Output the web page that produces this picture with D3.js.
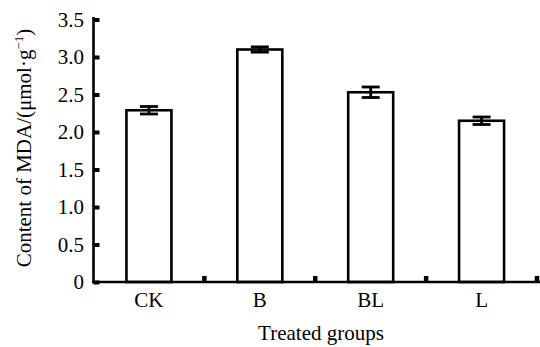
<!DOCTYPE html>
<html>
<head>
<meta charset="utf-8">
<script src="https://cdn.jsdelivr.net/npm/d3@7"></script>
<style>
  html, body { margin: 0; padding: 0; background: #fff; }
</style>
</head>
<body>
<svg id="chart" width="540" height="347" font-family="Liberation Serif, Times New Roman, DejaVu Serif, serif"></svg>
<script>
const categories = ["CK", "B", "BL", "L"];
const values = [2.29, 3.10, 2.53, 2.15];
const errors = [0.05, 0.035, 0.07, 0.05];
const yTicks = [0, 0.5, 1.0, 1.5, 2.0, 2.5, 3.0, 3.5];
const yTickLabels = ["0", "0.5", "1.0", "1.5", "2.0", "2.5", "3.0", "3.5"];
const xTitle = "Treated groups";

const FONT = "'Liberation Serif', 'Times New Roman', 'DejaVu Serif', serif";
const FS = 21;
const svg = d3.select("#chart");
const mLeft = 93.5, mRight = 537, mTop = 19.5, mBottom = 282;

const x = d3.scaleBand().domain(categories).range([mLeft, mRight]).paddingInner(0).paddingOuter(0);
const y = d3.scaleLinear().domain([0, 3.5]).range([mBottom, mTop]);
const barW = 45;

// bars
svg.append("g").selectAll("rect").data(categories).join("rect")
  .attr("x", d => x(d) + x.bandwidth() / 2 - barW / 2)
  .attr("y", (d, i) => y(values[i]))
  .attr("width", barW)
  .attr("height", (d, i) => y(0) - y(values[i]))
  .attr("fill", "#fff").attr("stroke", "#000").attr("stroke-width", 2.6);

// error bars
const eg = svg.append("g").attr("stroke", "#000").attr("stroke-width", 2.8);
categories.forEach((c, i) => {
  const cx = x(c) + x.bandwidth() / 2;
  const hi = y(values[i] + errors[i]), lo = y(values[i] - errors[i]);
  eg.append("line").attr("x1", cx).attr("x2", cx).attr("y1", hi).attr("y2", lo);
  eg.append("line").attr("x1", cx - 9).attr("x2", cx + 9).attr("y1", hi).attr("y2", hi);
  eg.append("line").attr("x1", cx - 9).attr("x2", cx + 9).attr("y1", lo).attr("y2", lo);
});

// y axis
const yAxis = d3.axisRight(y).tickValues(yTicks).tickSize(6).tickFormat("");
const yg = svg.append("g").attr("transform", `translate(${mLeft},0)`).call(yAxis);
yg.select(".domain").remove();
yg.selectAll(".tick line").attr("stroke", "#000").attr("stroke-width", 4);
svg.append("line").attr("x1", mLeft).attr("x2", mLeft).attr("y1", y(3.5) - 2.5).attr("y2", mBottom + 1.2)
  .attr("stroke", "#000").attr("stroke-width", 2.6);
svg.append("g").selectAll("text").data(yTicks).join("text")
  .attr("x", 84).attr("y", d => y(d)).attr("dy", "0.34em")
  .attr("text-anchor", "end").attr("font-size", FS).style("font-family", FONT)
  .text((d, i) => yTickLabels[i]);

// x axis
svg.append("line").attr("x1", mLeft - 1.3).attr("x2", 540).attr("y1", mBottom).attr("y2", mBottom)
  .attr("stroke", "#000").attr("stroke-width", 2.6);
const bounds = categories.map(c => x(c) + x.bandwidth());
svg.append("g").selectAll("line").data(bounds).join("line")
  .attr("x1", d => d).attr("x2", d => d).attr("y1", mBottom).attr("y2", mBottom - 6)
  .attr("stroke", "#000").attr("stroke-width", 4.5);
svg.append("g").selectAll("text").data(categories).join("text")
  .attr("x", d => x(d) + x.bandwidth() / 2).attr("y", 307)
  .attr("text-anchor", "middle").attr("font-size", FS).style("font-family", FONT)
  .text(d => d);

// titles
svg.append("text").attr("x", 321).attr("y", 340).attr("text-anchor", "middle")
  .attr("font-size", FS).style("font-family", FONT).text(xTitle);

const yt = svg.append("text").attr("transform", "translate(31,148) rotate(-90)")
  .attr("text-anchor", "middle").attr("font-size", FS).style("font-family", FONT);
yt.append("tspan").text("Content of MDA/(μmol·g");
yt.append("tspan").attr("font-size", 13).attr("dy", -8).text("−1");
yt.append("tspan").attr("dy", 8).text(")");
</script>
</body>
</html>
